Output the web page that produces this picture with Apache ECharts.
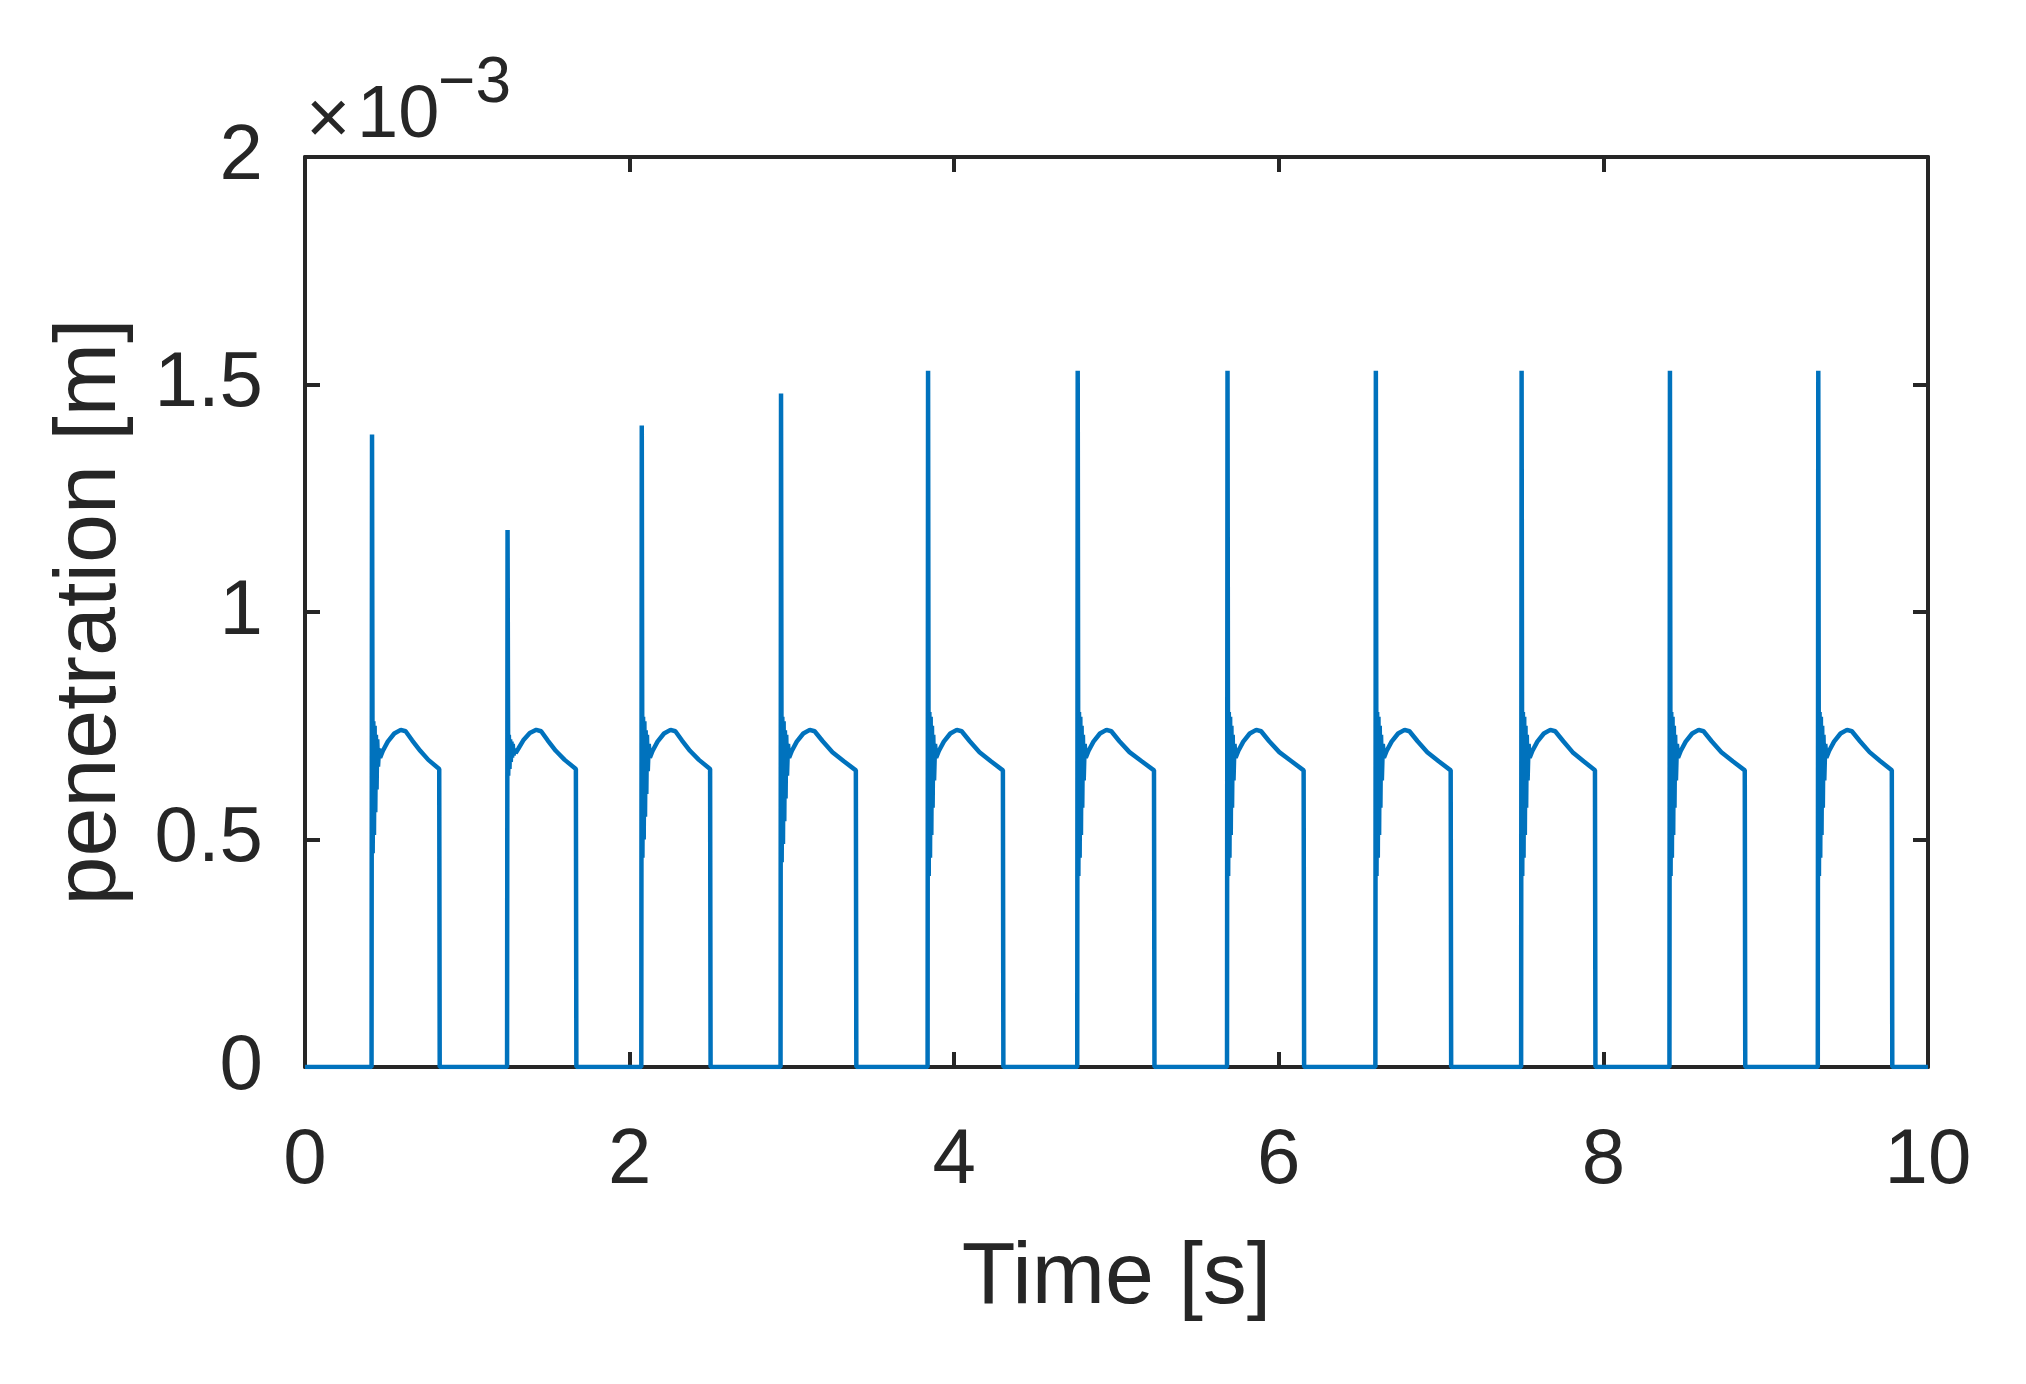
<!DOCTYPE html>
<html>
<head>
<meta charset="utf-8">
<script src="https://cdn.jsdelivr.net/npm/echarts@6/dist/echarts.min.js"></script>
<style>
html,body{margin:0;padding:0;background:#fff;}
#chart{width:2026px;height:1384px;}
</style>
</head>
<body>
<div id="chart"></div>
<script>
// Values in units of 1e-3 m (axis multiplier ×10^-3)
const xTicks = [0, 2, 4, 6, 8, 10];
const yTicks = [0, 0.5, 1, 1.5, 2];
const xLabel = 'Time [s]';
const yLabel = 'penetration [m]';

const lead = [[0, 0]];
const cycle1 = [[0.410,0],[0.413,1.39],[0.417,0.47],[0.421,0.76],[0.425,0.51],[0.429,0.75],[0.433,0.56],[0.437,0.73],[0.441,0.61],[0.445,0.72],[0.450,0.66],[0.456,0.70],[0.463,0.68],[0.480,0.695],[0.510,0.715],[0.550,0.733],[0.590,0.741],[0.620,0.738],[0.660,0.718],[0.710,0.695],[0.760,0.675],[0.827,0.655],[0.830,0]];
const cycle2 = [[1.245,0],[1.248,1.18],[1.252,0.64],[1.256,0.73],[1.260,0.655],[1.264,0.72],[1.268,0.67],[1.272,0.715],[1.276,0.68],[1.280,0.71],[1.285,0.685],[1.291,0.70],[1.298,0.69],[1.315,0.70],[1.345,0.718],[1.385,0.734],[1.425,0.741],[1.455,0.738],[1.495,0.718],[1.545,0.695],[1.600,0.675],[1.669,0.655],[1.672,0]];
const cycle3 = [[2.072,0],[2.075,1.41],[2.079,0.46],[2.083,0.77],[2.087,0.50],[2.091,0.76],[2.095,0.55],[2.099,0.74],[2.103,0.60],[2.107,0.73],[2.112,0.65],[2.118,0.71],[2.125,0.68],[2.142,0.695],[2.172,0.715],[2.212,0.733],[2.252,0.741],[2.282,0.738],[2.322,0.718],[2.372,0.695],[2.427,0.675],[2.496,0.655],[2.499,0]];
const cycle4 = [[2.930,0],[2.933,1.48],[2.937,0.45],[2.941,0.77],[2.945,0.49],[2.949,0.76],[2.953,0.54],[2.957,0.74],[2.961,0.59],[2.965,0.73],[2.970,0.64],[2.976,0.71],[2.983,0.68],[3.000,0.695],[3.030,0.715],[3.070,0.733],[3.110,0.741],[3.140,0.738],[3.190,0.716],[3.250,0.692],[3.320,0.672],[3.394,0.652],[3.397,0]];
const cycle5 = [[3.836,0],[3.839,1.53],[3.843,0.42],[3.847,0.78],[3.851,0.46],[3.855,0.77],[3.859,0.51],[3.863,0.75],[3.867,0.57],[3.871,0.73],[3.876,0.63],[3.882,0.71],[3.889,0.68],[3.906,0.695],[3.936,0.715],[3.976,0.733],[4.016,0.741],[4.046,0.738],[4.096,0.716],[4.156,0.692],[4.226,0.672],[4.300,0.652],[4.303,0]];
const cycle6 = [[4.758,0],[4.761,1.53],[4.765,0.42],[4.769,0.78],[4.773,0.46],[4.777,0.77],[4.781,0.51],[4.785,0.75],[4.789,0.57],[4.793,0.73],[4.798,0.63],[4.804,0.71],[4.811,0.68],[4.828,0.695],[4.858,0.715],[4.898,0.733],[4.938,0.741],[4.968,0.738],[5.018,0.716],[5.080,0.692],[5.155,0.672],[5.231,0.652],[5.234,0]];
const cycle7 = [[5.681,0],[5.684,1.53],[5.688,0.42],[5.692,0.78],[5.696,0.46],[5.700,0.77],[5.704,0.51],[5.708,0.75],[5.712,0.57],[5.716,0.73],[5.721,0.63],[5.727,0.71],[5.734,0.68],[5.751,0.695],[5.781,0.715],[5.821,0.733],[5.861,0.741],[5.891,0.738],[5.941,0.716],[6.003,0.692],[6.078,0.672],[6.153,0.652],[6.156,0]];
const cycle8 = [[6.595,0],[6.598,1.53],[6.602,0.42],[6.606,0.78],[6.610,0.46],[6.614,0.77],[6.618,0.51],[6.622,0.75],[6.626,0.57],[6.630,0.73],[6.635,0.63],[6.641,0.71],[6.648,0.68],[6.665,0.695],[6.695,0.715],[6.735,0.733],[6.775,0.741],[6.805,0.738],[6.855,0.716],[6.915,0.692],[6.985,0.672],[7.059,0.652],[7.062,0]];
const cycle9 = [[7.493,0],[7.496,1.53],[7.500,0.42],[7.504,0.78],[7.508,0.46],[7.512,0.77],[7.516,0.51],[7.520,0.75],[7.524,0.57],[7.528,0.73],[7.533,0.63],[7.539,0.71],[7.546,0.68],[7.563,0.695],[7.593,0.715],[7.633,0.733],[7.673,0.741],[7.703,0.738],[7.753,0.716],[7.810,0.692],[7.878,0.672],[7.948,0.652],[7.951,0]];
const cycle10 = [[8.407,0],[8.410,1.53],[8.414,0.42],[8.418,0.78],[8.422,0.46],[8.426,0.77],[8.430,0.51],[8.434,0.75],[8.438,0.57],[8.442,0.73],[8.447,0.63],[8.453,0.71],[8.460,0.68],[8.477,0.695],[8.507,0.715],[8.547,0.733],[8.587,0.741],[8.617,0.738],[8.667,0.716],[8.727,0.692],[8.797,0.672],[8.871,0.652],[8.874,0]];
const cycle11 = [[9.321,0],[9.324,1.53],[9.328,0.42],[9.332,0.78],[9.336,0.46],[9.340,0.77],[9.344,0.51],[9.348,0.75],[9.352,0.57],[9.356,0.73],[9.361,0.63],[9.367,0.71],[9.374,0.68],[9.391,0.695],[9.421,0.715],[9.461,0.733],[9.501,0.741],[9.531,0.738],[9.581,0.716],[9.640,0.692],[9.707,0.672],[9.777,0.652],[9.780,0]];
const tail = [[10, 0]];

const seriesData = [].concat(lead, cycle1, cycle2, cycle3, cycle4, cycle5, cycle6, cycle7, cycle8, cycle9, cycle10, cycle11, tail);

const axisColor = '#262626';
const FONT = '"Liberation Sans", Arial, Helvetica, sans-serif';

const chart = echarts.init(document.getElementById('chart'), null, {renderer: 'canvas'});

const baseAxisLine = {show: true, onZero: false, lineStyle: {color: axisColor, width: 4}};
const baseTick = {show: true, inside: true, length: 15, lineStyle: {color: axisColor, width: 4}};

chart.setOption({
  backgroundColor: '#ffffff',
  animation: false,
  grid: {left: 305, right: 98, top: 157, bottom: 317, containLabel: false},
  xAxis: [
    {
      type: 'value', min: xTicks[0], max: xTicks[xTicks.length - 1], interval: 2,
      position: 'bottom',
      axisLine: baseAxisLine, axisTick: baseTick, splitLine: {show: false},
      axisLabel: {show: true, color: axisColor, fontFamily: FONT, fontSize: 78, margin: 55},
      name: xLabel, nameLocation: 'middle', nameGap: 168,
      nameTextStyle: {color: axisColor, fontFamily: FONT, fontSize: 88}
    },
    {
      type: 'value', min: xTicks[0], max: xTicks[xTicks.length - 1], interval: 2,
      position: 'top',
      axisLine: baseAxisLine, axisTick: baseTick, splitLine: {show: false},
      axisLabel: {show: false}
    }
  ],
  yAxis: [
    {
      type: 'value', min: yTicks[0], max: yTicks[yTicks.length - 1], interval: 0.5,
      position: 'left',
      axisLine: baseAxisLine, axisTick: baseTick, splitLine: {show: false},
      axisLabel: {show: true, color: axisColor, fontFamily: FONT, fontSize: 78, margin: 42},
      name: yLabel, nameLocation: 'middle', nameGap: 170, nameRotate: 90,
      nameTextStyle: {color: axisColor, fontFamily: FONT, fontSize: 88}
    },
    {
      type: 'value', min: yTicks[0], max: yTicks[yTicks.length - 1], interval: 0.5,
      position: 'right',
      axisLine: baseAxisLine, axisTick: baseTick, splitLine: {show: false},
      axisLabel: {show: false}
    }
  ],
  graphic: [
    {type: 'text', left: 306, top: 84, style: {text: '×', font: '76px ' + FONT, fill: axisColor}},
    {type: 'text', left: 357, top: 80, style: {text: '10', font: '74px ' + FONT, fill: axisColor}},
    {type: 'text', left: 438, top: 52, style: {text: '−3', font: '64px ' + FONT, fill: axisColor}}
  ],
  series: [
    {
      type: 'line', xAxisIndex: 0, yAxisIndex: 0,
      data: seriesData, showSymbol: false, symbol: 'none',
      lineStyle: {color: '#0072BD', width: 4.5},
      z: 3
    }
  ]
});
</script>
</body>
</html>
